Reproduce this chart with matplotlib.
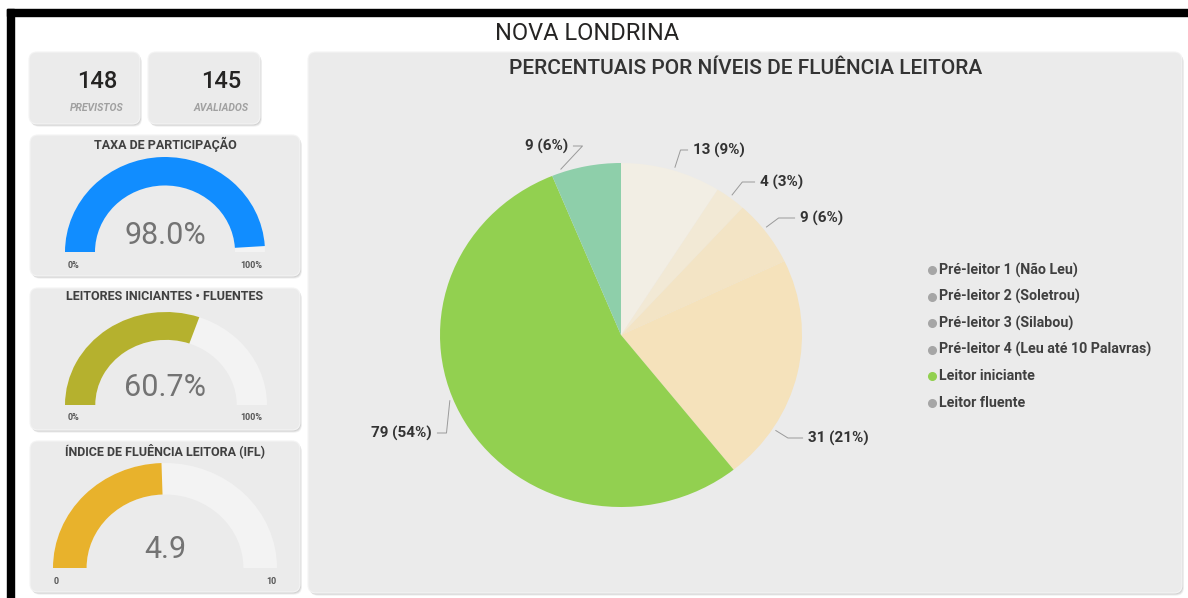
import matplotlib
matplotlib.use("Agg")
import matplotlib.pyplot as plt
from matplotlib.patches import FancyBboxPatch, Wedge, Rectangle
import numpy as np

plt.rcParams['font.family'] = ['Roboto', 'DejaVu Sans']

# ---------------- data ----------------
title = "NOVA LONDRINA"
pie_title = "PERCENTUAIS POR NÍVEIS DE FLUÊNCIA LEITORA"
previstos = 148
avaliados = 145
categories = ["Pré-leitor 1 (Não Leu)", "Pré-leitor 2 (Soletrou)", "Pré-leitor 3 (Silabou)",
              "Pré-leitor 4 (Leu até 10 Palavras)", "Leitor iniciante", "Leitor fluente"]
counts = [13, 4, 9, 31, 79, 9]
pie_colors = ["#f2eee4", "#f2e9d5", "#f3e4c5", "#f5e2bb", "#92d050", "#8ecfaa"]
legend_marker_colors = ["#a6a6a6", "#a6a6a6", "#a6a6a6", "#a6a6a6", "#92d050", "#a6a6a6"]

gauge_titles = ["TAXA DE PARTICIPAÇÃO", "LEITORES INICIANTES • FLUENTES", "ÍNDICE DE FLUÊNCIA LEITORA (IFL)"]
gauge_values = [98.0, 60.7, 4.9]
gauge_max = [100, 100, 10]
gauge_texts = ["98.0%", "60.7%", "4.9"]
gauge_min_labels = ["0%", "0%", "0"]
gauge_max_labels = ["100%", "100%", "10"]
gauge_colors = ["#118dff", "#b5b12e", "#e8b22c"]

W, H = 1188, 598
fig = plt.figure(figsize=(W / 100, H / 100), dpi=100)
fig.patch.set_facecolor("white")

bg = fig.add_axes([0, 0, 1, 1])
bg.set_xlim(0, W)
bg.set_ylim(H, 0)
bg.axis("off")

# black frame (top & left)
bg.add_patch(Rectangle((7, 9), W - 7, 7, color="black", zorder=5))
bg.add_patch(Rectangle((7, 9), 7, H - 9, color="black", zorder=5))


def card(x0, y0, x1, y1):
    for dx, a in [(4, 0.10), (3, 0.15), (2, 0.25)]:
        bg.add_patch(FancyBboxPatch((x0 + dx * 0.5, y0 + dx * 0.7), x1 - x0, y1 - y0,
                                    boxstyle="round,pad=0,rounding_size=8",
                                    fc="#9a9a9a", ec="none", alpha=a, zorder=1))
    bg.add_patch(FancyBboxPatch((x0, y0), x1 - x0, y1 - y0,
                                boxstyle="round,pad=0,rounding_size=8",
                                fc="#ebebeb", ec="#f4f4f4", lw=0.8, zorder=2))


card(29, 52, 140, 124)
card(148, 52, 260, 124)
card(30, 135, 300, 276)
card(30, 288, 300, 430)
card(30, 441, 300, 592)
card(308, 52, 1182, 593)

bg.text(587, 33, title, ha="center", va="center", fontsize=17, color="#252423", zorder=6)

# KPI cards
bg.text(97, 82, str(previstos), ha="center", va="center", fontsize=17, color="#252423", fontweight="medium", zorder=6)
bg.text(97, 108, "PREVISTOS", ha="center", va="center", fontsize=7.5, color="#a0a0a0", style="italic", fontweight="bold", zorder=6)
bg.text(221, 82, str(avaliados), ha="center", va="center", fontsize=17, color="#252423", fontweight="medium", zorder=6)
bg.text(221, 108, "AVALIADOS", ha="center", va="center", fontsize=7.5, color="#a0a0a0", style="italic", fontweight="bold", zorder=6)

# gauges: (cx, cy, Rx, Ry, title_y, text_y, label_y, minx, maxx)
gauge_layout = [
    (165, 252, 100, 95, 144, 236, 265, 73, 251),
    (166, 405, 101, 93, 297, 388, 418, 73, 251),
    (165, 568, 112, 105, 451, 550, 582, 56, 271),
]
inner_ratio = 0.70
for i in range(3):
    cx, cy, rx, ry, ty, vy, ly, mnx, mxx = gauge_layout[i]
    gax = fig.add_axes([(cx - rx) / W, (H - cy) / H, 2 * rx / W, ry / H])
    gax.set_xlim(-1, 1)
    gax.set_ylim(0, 1)
    gax.axis("off")
    gax.patch.set_alpha(0)
    frac = gauge_values[i] / gauge_max[i]
    gax.add_patch(Wedge((0, 0), 1, 0, 180, width=1 - inner_ratio, fc="#f3f3f3", ec="none"))
    gax.add_patch(Wedge((0, 0), 1, 180 - 180 * frac, 180, width=1 - inner_ratio, fc=gauge_colors[i], ec="none"))
    bg.text(165, ty, gauge_titles[i], ha="center", va="center", fontsize=9, color="#404040", fontweight="bold", zorder=6)
    bg.text(165, vy, gauge_texts[i], ha="center", va="center", fontsize=22, color="#737373", fontweight="normal", zorder=6)
    bg.text(mnx, ly, gauge_min_labels[i], ha="center", va="center", fontsize=6.5, color="#555555", fontweight="bold", zorder=6)
    bg.text(mxx, ly, gauge_max_labels[i], ha="center", va="center", fontsize=6.5, color="#555555", fontweight="bold", zorder=6)

# pie
bg.text(746, 68, pie_title, ha="center", va="center", fontsize=15, color="#333333", fontweight="medium", zorder=6)
pcx, pcy, prx, pry = 621, 335, 181, 172
k = 1.8
pax = fig.add_axes([(pcx - k * prx) / W, (H - pcy - k * pry) / H, 2 * k * prx / W, 2 * k * pry / H])
pax.pie(counts, colors=pie_colors, startangle=90, counterclock=False,
        wedgeprops=dict(linewidth=0))
pax.set_aspect("auto")
pax.set_xlim(-k, k)
pax.set_ylim(-k, k)
pax.axis("off")
pax.patch.set_alpha(0)

total = sum(counts)
# label layout: (anchor angle clockwise from top in deg, text pixel x, text pixel y, ha)
label_layout = [
    (17, 693, 150, "left"),
    (37, 760, 182, "left"),
    (52, 800, 218, "left"),
    (123, 808, 438, "left"),
    (248, 432, 433, "right"),
    (-19, 568, 146, "right"),
]
for i, v in enumerate(counts):
    ang, tx, ty, ha = label_layout[i]
    a = np.deg2rad(ang)
    ex, ey = 1.02 * np.sin(a), 1.02 * np.cos(a)
    txd = (tx - pcx) / prx
    tyd = (pcy - ty) / pry
    endx = txd - 0.03 if ha == "left" else txd + 0.03
    dx = (tyd - ey) * np.tan(a)
    dx = float(np.clip(dx, -0.1, 0.1))
    midx = ex + dx
    if ha == "left":
        midx = min(midx, endx - 0.02)
    else:
        midx = max(midx, endx + 0.05)
    pax.plot([ex, midx, endx], [ey, tyd, tyd], color="#9a9a9a", lw=0.7, clip_on=False)
    pax.text(txd, tyd, f"{v} ({round(v / total * 100)}%)", ha=ha, va="center",
             fontsize=11, color="#333333", fontweight="bold")

# legend
for i, c in enumerate(categories):
    y = 270 + i * 26.6
    bg.plot([932], [y], marker="o", ms=5.5, color=legend_marker_colors[i], zorder=6)
    bg.text(939, y, c, ha="left", va="center", fontsize=10.3, color="#404040", fontweight="bold", zorder=6)

fig.savefig("out.png", dpi=100)
